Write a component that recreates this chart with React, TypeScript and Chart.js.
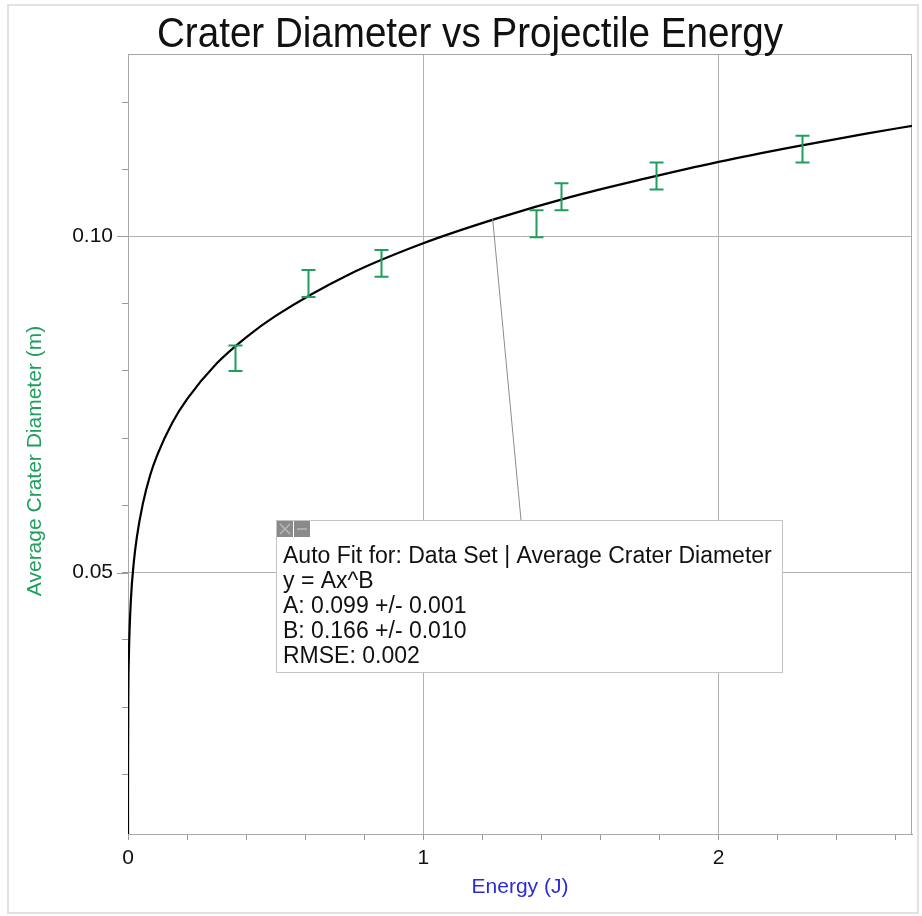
import React, { useEffect, useRef } from 'react';
import { Chart, registerables } from 'chart.js';

Chart.register(...registerables);

// Measured data (Energy in J, average crater diameter in m, error bar half-height)
const energy = [0.364, 0.611, 0.857, 1.382, 1.467, 1.789, 2.282];
const diameter = [0.0819, 0.093, 0.096, 0.1019, 0.1059, 0.109, 0.113];
const diameterErr = [0.0019, 0.002, 0.002, 0.002, 0.002, 0.002, 0.002];

const fitX = [0, 0.00001, 0.0001, 0.001, 0.003, 0.01, 0.02, 0.03, 0.05, 0.075, 0.1, 0.15, 0.2, 0.3, 0.4, 0.5, 0.75, 1, 1.25, 1.5, 1.75, 2, 2.25, 2.5, 2.66];
const fitY = [0, 0.0146, 0.0215, 0.0315, 0.0377, 0.0461, 0.0517, 0.0553, 0.0602, 0.0645, 0.0676, 0.0723, 0.0758, 0.0811, 0.085, 0.0882, 0.0944, 0.099, 0.1027, 0.1059, 0.1086, 0.1111, 0.1133, 0.1153, 0.1165];

const xTickLabels = ['0', '1', '2'];
const yTickLabels = ['0.05', '0.10'];

const titleText = 'Crater Diameter vs Projectile Energy';
const xTitle = 'Energy (J)';
const yTitle = 'Average Crater Diameter (m)';
const fitText = [
  'Auto Fit for: Data Set | Average Crater Diameter',
  'y = Ax^B',
  'A: 0.099 +/- 0.001',
  'B: 0.166 +/- 0.010',
  'RMSE: 0.002',
];
const calloutAnchor = { x: 1.235, y: 0.1026 };

const FONT = "'Liberation Sans', Arial, Helvetica, sans-serif";
const GREEN = '#1f9e5e';

const isNear = (v: number, t: number) => Math.abs(v - t) < 1e-6;

const extrasPlugin = {
  id: 'extras',
  beforeDatasetsDraw(chart: any) {
    const { ctx, chartArea } = chart;
    ctx.save();
    ctx.strokeStyle = '#a8a8a8';
    ctx.lineWidth = 1;
    ctx.strokeRect(chartArea.left + 0.5, chartArea.top + 0.5, chartArea.right - chartArea.left - 1, chartArea.bottom - chartArea.top);
    ctx.restore();
  },
  afterDatasetsDraw(chart: any) {
    const { ctx, scales } = chart;
    const xs = scales.x;
    const ys = scales.y;
    ctx.save();
    ctx.strokeStyle = GREEN;
    ctx.lineWidth = 2;
    const cap = 7;
    for (let i = 0; i < energy.length; i++) {
      const px = Math.round(xs.getPixelForValue(energy[i])) + 0.5;
      const top = ys.getPixelForValue(diameter[i] + diameterErr[i]);
      const bot = ys.getPixelForValue(diameter[i] - diameterErr[i]);
      ctx.beginPath();
      ctx.moveTo(px, top);
      ctx.lineTo(px, bot);
      ctx.moveTo(px - cap, top);
      ctx.lineTo(px + cap, top);
      ctx.moveTo(px - cap, bot);
      ctx.lineTo(px + cap, bot);
      ctx.stroke();
    }
    // longer major tick marks on the y axis
    ctx.strokeStyle = '#9a9a9a';
    ctx.lineWidth = 1;
    yTickLabels.forEach((l) => {
      const py = Math.round(ys.getPixelForValue(parseFloat(l))) + 0.5;
      ctx.beginPath();
      ctx.moveTo(chart.chartArea.left - 11, py);
      ctx.lineTo(chart.chartArea.left, py);
      ctx.stroke();
    });
    ctx.restore();
  },
  afterDraw(chart: any) {
    const { ctx, chartArea, scales } = chart;
    // chart title (slightly condensed, like the original)
    ctx.save();
    ctx.fillStyle = '#111111';
    ctx.font = `42px ${FONT}`;
    ctx.textAlign = 'center';
    ctx.textBaseline = 'alphabetic';
    const w = ctx.measureText(titleText).width;
    const sx = Math.min(1, 626 / w);
    ctx.translate(470, 47);
    ctx.scale(sx, 1);
    ctx.fillText(titleText, 0, 0);
    ctx.restore();

    // y axis title
    ctx.save();
    ctx.fillStyle = GREEN;
    ctx.font = `21px ${FONT}`;
    ctx.textAlign = 'center';
    ctx.textBaseline = 'middle';
    ctx.translate(35, chartArea.top + 407);
    ctx.rotate(-Math.PI / 2);
    ctx.fillText(yTitle, 0, 0);
    ctx.restore();

    // fit annotation box
    const bx = chartArea.left + 148;
    const by = chartArea.top + 466;
    const bw = 506;
    const bh = 152;
    const ax = scales.x.getPixelForValue(calloutAnchor.x);
    const ay = scales.y.getPixelForValue(calloutAnchor.y);
    ctx.save();
    ctx.strokeStyle = '#8c8c8c';
    ctx.lineWidth = 1;
    ctx.beginPath();
    ctx.moveTo(ax, ay);
    ctx.lineTo(bx + 245, by);
    ctx.stroke();

    ctx.fillStyle = '#ffffff';
    ctx.fillRect(bx, by, bw, bh);
    ctx.strokeStyle = '#c4c4c4';
    ctx.strokeRect(bx + 0.5, by + 0.5, bw, bh);

    // icon squares
    ctx.fillStyle = '#8a8a8a';
    ctx.fillRect(bx + 1, by + 1, 16, 16);
    ctx.fillRect(bx + 18, by + 1, 16, 16);
    ctx.strokeStyle = '#b8b8b8';
    ctx.lineWidth = 1.5;
    ctx.beginPath();
    ctx.moveTo(bx + 4, by + 4);
    ctx.lineTo(bx + 14, by + 14);
    ctx.moveTo(bx + 14, by + 4);
    ctx.lineTo(bx + 4, by + 14);
    ctx.moveTo(bx + 21, by + 9);
    ctx.lineTo(bx + 31, by + 9);
    ctx.stroke();

    ctx.fillStyle = '#111111';
    ctx.font = `23px ${FONT}`;
    ctx.textAlign = 'left';
    ctx.textBaseline = 'alphabetic';
    fitText.forEach((t, i) => {
      ctx.fillText(t, bx + 7, by + 43 + i * 25);
    });
    ctx.restore();
  },
};

export default function App() {
  const canvasRef = useRef<HTMLCanvasElement | null>(null);

  useEffect(() => {
    const canvas = canvasRef.current;
    if (!canvas) return;
    const chart = new Chart(canvas, {
      type: 'scatter',
      data: {
        datasets: [
          {
            label: 'Fit',
            data: fitX.map((x, i) => ({ x, y: fitY[i] })),
            showLine: true,
            borderColor: '#000000',
            borderWidth: 2.2,
            pointRadius: 0,
            cubicInterpolationMode: 'monotone',
            fill: false,
          } as any,
          {
            label: 'Data Set',
            data: energy.map((x, i) => ({ x, y: diameter[i] })),
            showLine: false,
            pointRadius: 0,
            borderColor: GREEN,
            backgroundColor: GREEN,
          },
        ],
      },
      options: {
        responsive: false,
        maintainAspectRatio: false,
        animation: false,
        layout: { padding: { left: 0, right: 10, top: 54, bottom: 0 } },
        plugins: {
          legend: { display: false },
          tooltip: { enabled: false },
          title: { display: false },
        },
        scales: {
          x: {
            type: 'linear',
            min: 0,
            max: 2.655,
            afterFit: (s: any) => {
              s.height = 82;
            },
            ticks: {
              stepSize: 0.2,
              includeBounds: false,
              autoSkip: false,
              maxRotation: 0,
              padding: 6,
              color: '#111111',
              font: { family: FONT, size: 21 },
              callback: (v: any) => {
                const n = Number(v);
                const r = Math.round(n);
                return isNear(n, r) && xTickLabels[r] !== undefined ? xTickLabels[r] : '';
              },
            },
            grid: {
              drawTicks: true,
              tickLength: 6,
              color: (c: any) => {
                const v = c.tick ? c.tick.value : 0;
                return v > 0.5 && isNear(v, Math.round(v)) ? '#b0b0b0' : 'rgba(0,0,0,0)';
              },
              tickColor: '#9a9a9a',
            },
            border: { display: true, color: '#9a9a9a', width: 1 },
            title: {
              display: true,
              text: xTitle,
              color: '#2a2ad8',
              font: { family: FONT, size: 21 },
              padding: { top: 0, bottom: 16 },
            },
          },
          y: {
            type: 'linear',
            min: 0.01114,
            max: 0.12714,
            afterFit: (s: any) => {
              s.width = 128;
            },
            ticks: {
              stepSize: 0.01,
              includeBounds: false,
              autoSkip: false,
              padding: 9,
              color: '#111111',
              font: { family: FONT, size: 21 },
              callback: (v: any) => {
                const n = Number(v);
                const lab = yTickLabels.find((l) => isNear(parseFloat(l), n));
                return lab ?? '';
              },
            },
            grid: {
              drawTicks: true,
              tickLength: 6,
              color: (c: any) => {
                const v = c.tick ? c.tick.value : 0;
                return yTickLabels.some((l) => isNear(parseFloat(l), v)) ? '#b0b0b0' : 'rgba(0,0,0,0)';
              },
              tickColor: '#9a9a9a',
            },
            border: { display: true, color: '#9a9a9a', width: 1 },
          },
        },
      },
      plugins: [extrasPlugin],
    });
    return () => chart.destroy();
  }, []);

  return (
    <div style={{ position: 'absolute', left: 0, top: 0, width: 922, height: 916, background: '#ffffff' }}>
      <div
        style={{
          position: 'absolute',
          left: 7,
          top: 4,
          width: 912,
          height: 910,
          boxSizing: 'border-box',
          border: '2px solid #e2e2e2',
        }}
      />
      <canvas
        ref={canvasRef}
        width={922}
        height={916}
        style={{ position: 'absolute', left: 0, top: 0, width: 922, height: 916 }}
      />
    </div>
  );
}
